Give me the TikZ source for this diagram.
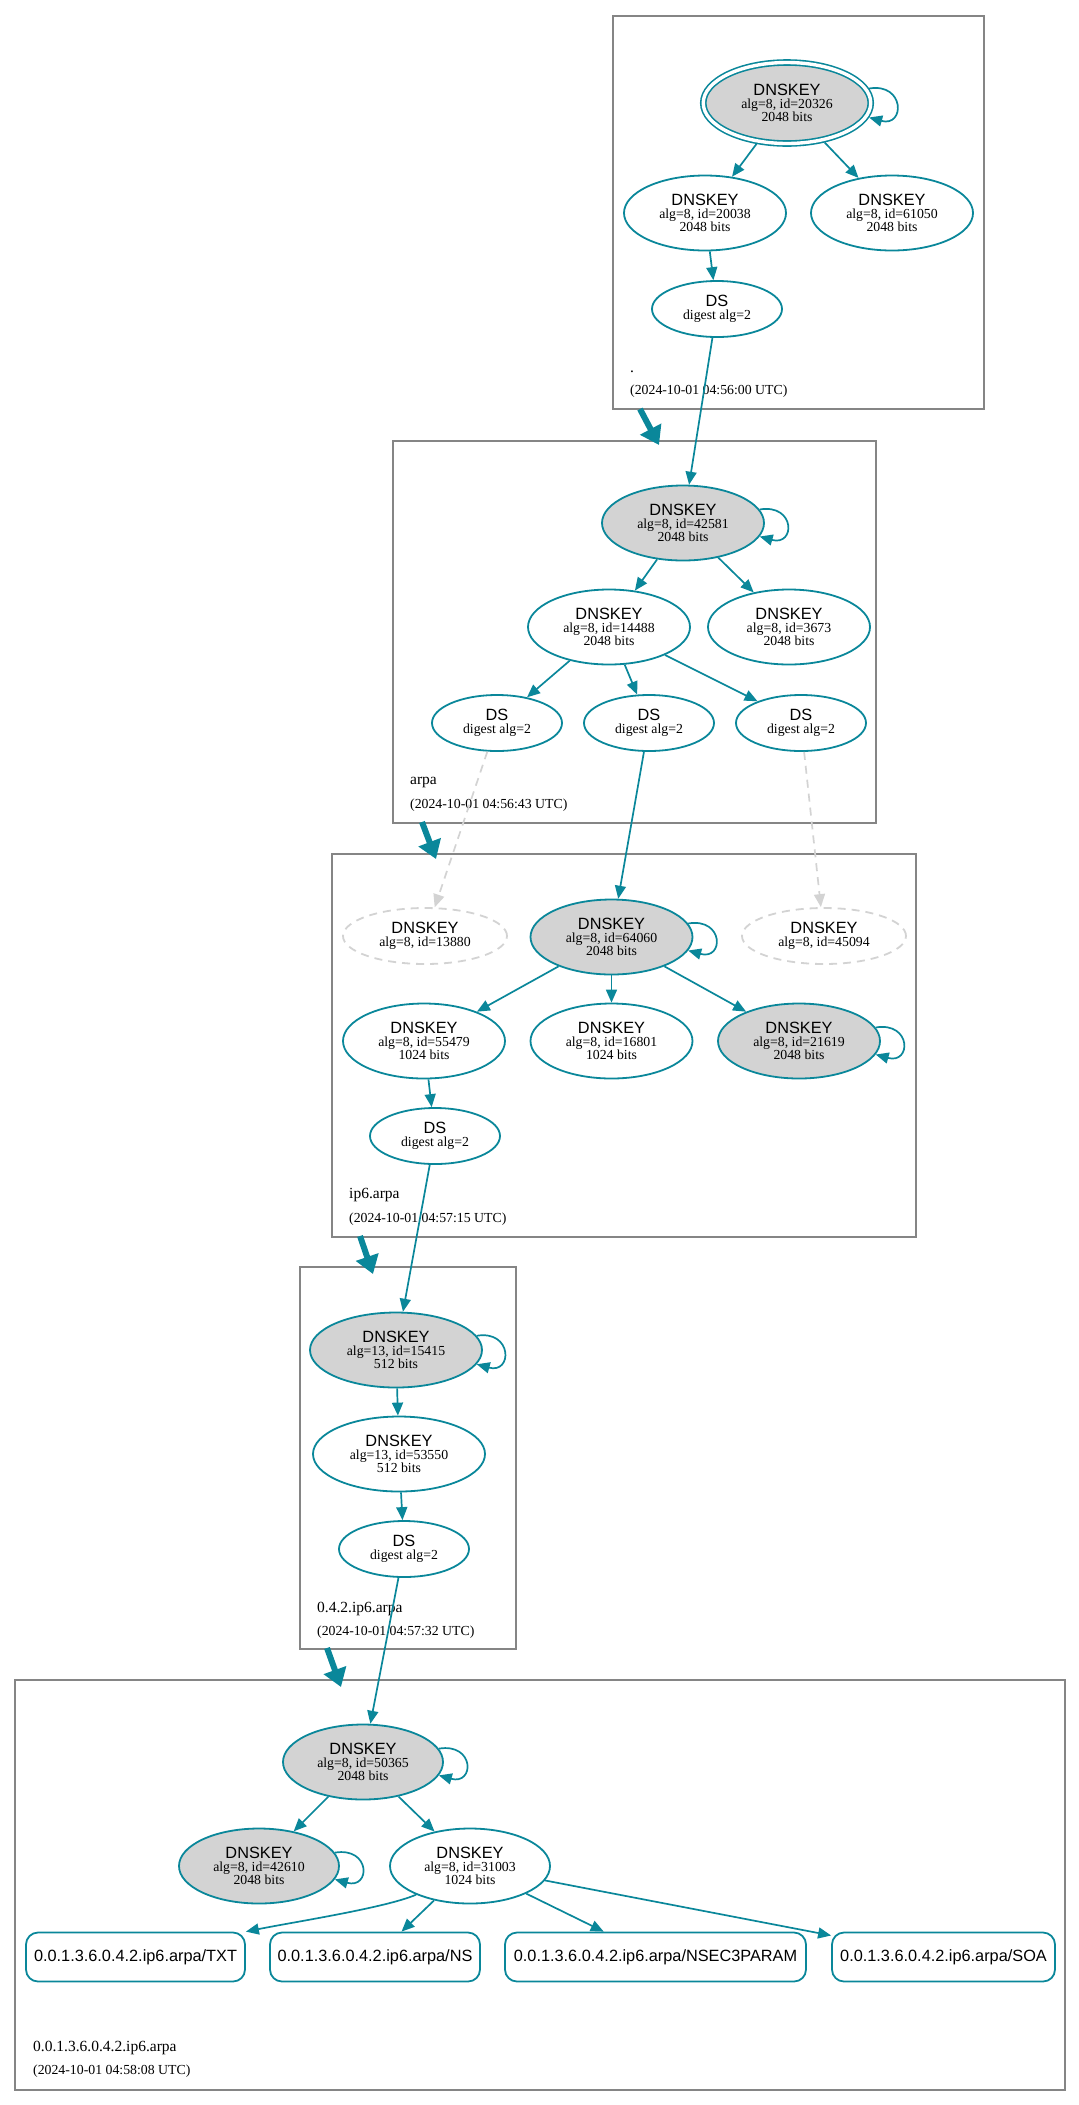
\documentclass[tikz,border=0pt]{standalone}
\usepackage{fontspec}
\setmainfont{Liberation Serif}
\newfontfamily\dnssans{Liberation Sans}
\usetikzlibrary{arrows.meta,shapes.geometric}
\definecolor{dnsteal}{HTML}{0A879A}
\definecolor{dnsgray}{HTML}{D3D3D3}
\definecolor{zonegray}{HTML}{858585}
\newcommand{\dnsbig}{\dnssans\fontsize{16.3}{12.7}\selectfont}
\newcommand{\dnsdet}{\fontsize{13.8}{12.7}\selectfont\lineskiplimit=-20pt}
\newcommand{\dnszone}{\fontsize{15.5}{17}\selectfont}
\newcommand{\dk}[2]{{\dnsbig DNSKEY}\\#1\\#2}
\newcommand{\dsl}{{\dnsbig DS}\\digest alg=2}
\tikzset{
  key/.style={ellipse, draw=dnsteal, line width=1.8pt, minimum width=162pt, minimum height=75pt, inner sep=0pt, align=center, font=\dnsdet},
  ksep/.style={fill=dnsgray},
  dsnode/.style={ellipse, draw=dnsteal, line width=1.8pt, minimum width=130pt, minimum height=56pt, inner sep=0pt, align=center, font=\dnsdet},
  ghost/.style={ellipse, draw=dnsgray, dash pattern=on 8pt off 6pt, line width=1.8pt, minimum width=164pt, minimum height=56pt, inner sep=0pt, align=center, font=\dnsdet},
  rrbox/.style={rectangle, rounded corners=12pt, draw=dnsteal, line width=1.8pt, minimum height=49pt, inner sep=0pt, font=\dnsbig},
  zone/.style={rectangle, draw=zonegray, line width=1.3pt, inner sep=0pt},
  edge/.style={draw=dnsteal, line width=1.7pt, -{Triangle[length=13pt,width=11pt]}},
  ghostedge/.style={draw=dnsgray, line width=1.7pt, dash pattern=on 8pt off 6pt, -{Triangle[length=13pt,width=11pt]}},
  zarrow/.style={draw=dnsteal, line width=6pt, -{Triangle[length=18pt,width=23pt]}},
  zname/.style={anchor=base west, font=\dnszone, inner sep=0pt},
  ztime/.style={anchor=base west, font=\dnsdet, inner sep=0pt},
}
\begin{document}
\begin{tikzpicture}[x=1pt, y=-1pt]
\useasboundingbox (0,0) rectangle (1079,2105);
% zone boxes
\node[zone, minimum width=371pt, minimum height=393pt] (zroot) at (798.5,212.5) {};
\node[zone, minimum width=483pt, minimum height=382pt] (zarpa) at (634.5,632) {};
\node[zone, minimum width=584pt, minimum height=383pt] (zip6) at (624,1045.5) {};
\node[zone, minimum width=216pt, minimum height=382pt] (z042) at (408,1458) {};
\node[zone, minimum width=1050pt, minimum height=410pt] (zbot) at (540,1885) {};
% zone labels
\node[zname] (lroot) at (630,372) {.};
\node[ztime] (troot) at (630,394.5) {(2024-10-01 04:56:00 UTC)};
\node[zname] (larpa) at (410,784) {arpa};
\node[ztime] (tarpa) at (410,808) {(2024-10-01 04:56:43 UTC)};
\node[zname] (lip6) at (349,1198) {ip6.arpa};
\node[ztime] (tip6) at (349,1222) {(2024-10-01 04:57:15 UTC)};
\node[zname] (l042) at (317,1612) {0.4.2.ip6.arpa};
\node[ztime] (t042) at (317,1635) {(2024-10-01 04:57:32 UTC)};
\node[zname] (lbot) at (33,2051) {0.0.1.3.6.0.4.2.ip6.arpa};
\node[ztime] (tbot) at (33,2074) {(2024-10-01 04:58:08 UTC)};
% root zone
\node[key, ksep, minimum width=167.5pt, minimum height=81pt, double, double distance=3.4pt, line width=1.6pt, outer sep=3.3pt] (k20326) at (787,103) {\dk{alg=8, id=20326}{2048 bits}};
\node[key] (k20038) at (705,213) {\dk{alg=8, id=20038}{2048 bits}};
\node[key] (k61050) at (892,213) {\dk{alg=8, id=61050}{2048 bits}};
\node[dsnode] (ds0) at (717,309) {\dsl};
% arpa
\node[key, ksep] (k42581) at (683,523) {\dk{alg=8, id=42581}{2048 bits}};
\node[key] (k14488) at (609,627) {\dk{alg=8, id=14488}{2048 bits}};
\node[key] (k3673) at (789,627) {\dk{alg=8, id=3673}{2048 bits}};
\node[dsnode] (ds1) at (497,723) {\dsl};
\node[dsnode] (ds2) at (649,723) {\dsl};
\node[dsnode] (ds3) at (801,723) {\dsl};
% ip6.arpa
\node[ghost] (g13880) at (425,936) {{\dnsbig DNSKEY}\\alg=8, id=13880};
\node[key, ksep] (k64060) at (611.5,937) {\dk{alg=8, id=64060}{2048 bits}};
\node[ghost] (g45094) at (824,936) {{\dnsbig DNSKEY}\\alg=8, id=45094};
\node[key] (k55479) at (424,1041) {\dk{alg=8, id=55479}{1024 bits}};
\node[key] (k16801) at (611.5,1041) {\dk{alg=8, id=16801}{1024 bits}};
\node[key, ksep] (k21619) at (799,1041) {\dk{alg=8, id=21619}{2048 bits}};
\node[dsnode] (ds4) at (435,1136) {\dsl};
% 0.4.2.ip6.arpa
\node[key, ksep, minimum width=172pt] (k15415) at (396,1350) {\dk{alg=13, id=15415}{512 bits}};
\node[key, minimum width=172pt] (k53550) at (399,1454) {\dk{alg=13, id=53550}{512 bits}};
\node[dsnode] (ds5) at (404,1549) {\dsl};
% bottom zone
\node[key, ksep, minimum width=160pt] (k50365) at (363,1762) {\dk{alg=8, id=50365}{2048 bits}};
\node[key, ksep, minimum width=160pt] (k42610) at (259,1866) {\dk{alg=8, id=42610}{2048 bits}};
\node[key, minimum width=160pt] (k31003) at (470,1866) {\dk{alg=8, id=31003}{1024 bits}};
\node[rrbox, minimum width=219pt] (txt) at (135.5,1957) {0.0.1.3.6.0.4.2.ip6.arpa/TXT};
\node[rrbox, minimum width=210pt] (ns) at (375,1957) {0.0.1.3.6.0.4.2.ip6.arpa/NS};
\node[rrbox, minimum width=301pt] (nsec) at (655.5,1957) {0.0.1.3.6.0.4.2.ip6.arpa/NSEC3PARAM};
\node[rrbox, minimum width=223pt] (soa) at (943.5,1957) {0.0.1.3.6.0.4.2.ip6.arpa/SOA};
% zone-to-zone arrows
\coordinate (z1s) at (640,409); \coordinate (z1e) at (659,445);
\coordinate (z2s) at (422,822); \coordinate (z2e) at (436,859);
\coordinate (z3s) at (360,1236); \coordinate (z3e) at (373,1274);
\coordinate (z4s) at (327,1648); \coordinate (z4e) at (341,1687);
\draw[zarrow] (z1s) -- (z1e);
\draw[zarrow] (z2s) -- (z2e);
\draw[zarrow] (z3s) -- (z3e);
\draw[zarrow] (z4s) -- (z4e);
% self loops
\draw[edge] (k20326.10) .. controls +(36,-6) and +(36,10) .. (k20326.-10);
\foreach \n in {k42581,k64060,k21619,k15415,k50365,k42610}
  \draw[edge] (\n.10) .. controls +(36,-6) and +(36,10) .. (\n.-10);
% root edges
\draw[edge] (k20326) -- (k20038);
\draw[edge] (k20326) -- (k61050);
\draw[edge] (k20038) -- (ds0);
\draw[edge] (ds0) -- (k42581);
% arpa edges
\draw[edge] (k42581) -- (k14488);
\draw[edge] (k42581) -- (k3673);
\draw[edge] (k14488) -- (ds1);
\draw[edge] (k14488) -- (ds2);
\draw[edge] (k14488) -- (ds3);
\draw[ghostedge] (ds1) -- (g13880);
\draw[edge] (ds2) -- (k64060);
\draw[ghostedge] (ds3) -- (g45094);
% ip6 edges
\draw[edge] (k64060) -- (k55479);
\draw[edge] (k64060) -- (k16801);
\draw[edge] (k64060) -- (k21619);
\draw[edge] (k55479) -- (ds4);
\draw[edge] (ds4) -- (k15415);
% 0.4.2 edges
\draw[edge] (k15415) -- (k53550);
\draw[edge] (k53550) -- (ds5);
\draw[edge] (ds5) -- (k50365);
% bottom edges
\draw[edge] (k50365) -- (k42610);
\draw[edge] (k50365) -- (k31003);
\draw[edge] (k31003.208) .. controls +(-30,13) and +(50,-10) .. (txt.north east);
\draw[edge] (k31003) -- (ns);
\draw[edge] (k31003) -- (nsec);
\draw[edge] (k31003) -- (soa);
\end{tikzpicture}
\end{document}
